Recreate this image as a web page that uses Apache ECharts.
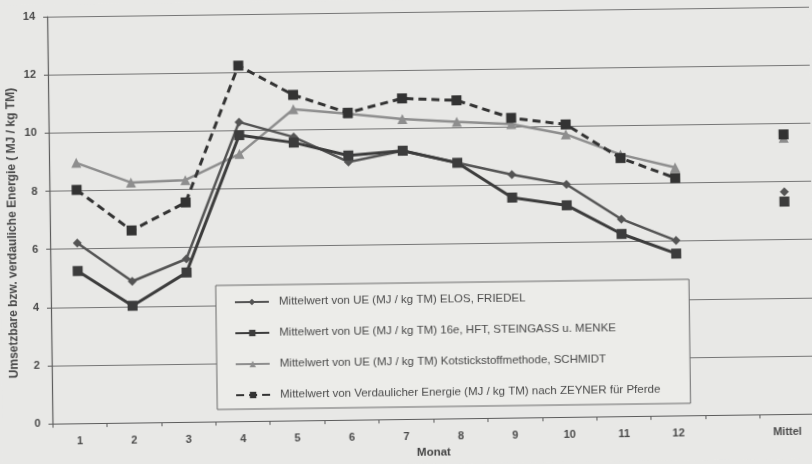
<!DOCTYPE html>
<html>
<head>
<meta charset="utf-8">
<script src="https://cdn.jsdelivr.net/npm/echarts@6/dist/echarts.min.js"></script>
<style>
  html, body { margin: 0; padding: 0; background: #e8e8e6; overflow: hidden; }
  #chart { width: 812px; height: 464px; transform: rotate(-0.75deg); transform-origin: 406px 232px; }
</style>
</head>
<body>
<div id="chart"></div>
<script>
// Monthly means (MJ / kg TM); the 13th slot is an empty spacer before the overall mean.
const months = ['1', '2', '3', '4', '5', '6', '7', '8', '9', '10', '11', '12', '', 'Mittel'];
const elosFriedel  = [6.20, 4.86, 5.61, 10.29, 9.75, 8.87, 9.23, 8.79, 8.36, 8.00, 6.78, 6.02, null, 7.65];
const hftSteingass = [5.24, 4.02, 5.14, 9.84, 9.56, 9.09, 9.23, 8.79, 7.57, 7.28, 6.27, 5.57, null, 7.31];
const kotstickstoff = [8.96, 8.26, 8.32, 9.19, 10.71, 10.53, 10.32, 10.20, 10.10, 9.72, 9.00, 8.53, null, 9.50];
const zeyner       = [8.03, 6.61, 7.55, 12.23, 11.20, 10.56, 11.03, 10.94, 10.31, 10.06, 8.88, 8.17, null, 9.62];
const yTicks = [0, 2, 4, 6, 8, 10, 12, 14];

const names = [
  'Mittelwert von UE (MJ / kg TM) ELOS, FRIEDEL',
  'Mittelwert von UE (MJ / kg TM) 16e, HFT, STEINGASS u. MENKE',
  'Mittelwert von UE (MJ / kg TM) Kotstickstoffmethode, SCHMIDT',
  'Mittelwert von Verdaulicher Energie (MJ / kg TM) nach ZEYNER für Pferde'
];

const font = 'Arial, "Liberation Sans", sans-serif';
const chart = echarts.init(document.getElementById('chart'), null, { renderer: 'canvas' });

chart.setOption({
  backgroundColor: '#e8e8e6',
  animation: false,
  grid: { left: 50, top: 12, width: 764, height: 414, containLabel: false },
  legend: {
    data: names,
    orient: 'vertical',
    left: 215,
    top: 283,
    padding: [10, 30, 7, 18],
    itemGap: 17,
    itemWidth: 34,
    itemHeight: 8,
    borderColor: '#6a6a6a',
    borderWidth: 1,
    backgroundColor: '#ecece9',
    textStyle: { fontFamily: font, fontSize: 11.5, color: '#4a4a4a', lineHeight: 14, padding: [0, 0, 0, 5] }
  },
  xAxis: {
    type: 'category',
    data: months,
    boundaryGap: true,
    name: 'Monat',
    nameLocation: 'middle',
    nameGap: 26,
    nameTextStyle: { fontFamily: font, fontSize: 11.5, fontWeight: 'bold', color: '#444' },
    axisLine: { lineStyle: { color: '#5c5c5c', width: 1.2 } },
    axisTick: { show: true, length: 4, lineStyle: { color: '#5c5c5c' } },
    axisLabel: { margin: 12, fontFamily: font, fontSize: 11, fontWeight: 'bold', color: '#4a4a4a' }
  },
  yAxis: {
    type: 'value',
    min: yTicks[0],
    max: yTicks[yTicks.length - 1],
    interval: 2,
    axisLine: { show: true, lineStyle: { color: '#5c5c5c', width: 1.2 } },
    axisTick: { show: true, length: 4, lineStyle: { color: '#5c5c5c' } },
    axisLabel: { margin: 12, fontFamily: font, fontSize: 11, fontWeight: 'bold', color: '#4a4a4a' },
    splitLine: { show: true, lineStyle: { color: '#767676', width: 1.2 } }
  },
  graphic: [{
    type: 'text',
    x: 13,
    y: 228,
    rotation: Math.PI / 2,
    style: {
      text: 'Umsetzbare bzw. verdauliche Energie ( MJ / kg TM)',
      font: 'bold 12px ' + font,
      fill: '#4a4a4a',
      align: 'center',
      verticalAlign: 'middle'
    }
  }],
  series: [
    {
      name: names[2], type: 'line', data: kotstickstoff, z: 2,
      symbol: 'triangle', symbolSize: 10, showAllSymbol: true,
      lineStyle: { color: '#8e8e8e', width: 2.5 },
      itemStyle: { color: '#8e8e8e' }
    },
    {
      name: names[3], type: 'line', data: zeyner, z: 3,
      symbol: 'rect', symbolSize: 10, showAllSymbol: true,
      lineStyle: { color: '#333333', width: 3, type: [8, 5] },
      itemStyle: { color: '#333333' }
    },
    {
      name: names[0], type: 'line', data: elosFriedel, z: 4,
      symbol: 'diamond', symbolSize: 9, showAllSymbol: true,
      lineStyle: { color: '#545454', width: 2.5 },
      itemStyle: { color: '#545454' }
    },
    {
      name: names[1], type: 'line', data: hftSteingass, z: 5,
      symbol: 'rect', symbolSize: 10, showAllSymbol: true,
      lineStyle: { color: '#3c3c3c', width: 3 },
      itemStyle: { color: '#3c3c3c' }
    }
  ]
});
</script>
</body>
</html>
